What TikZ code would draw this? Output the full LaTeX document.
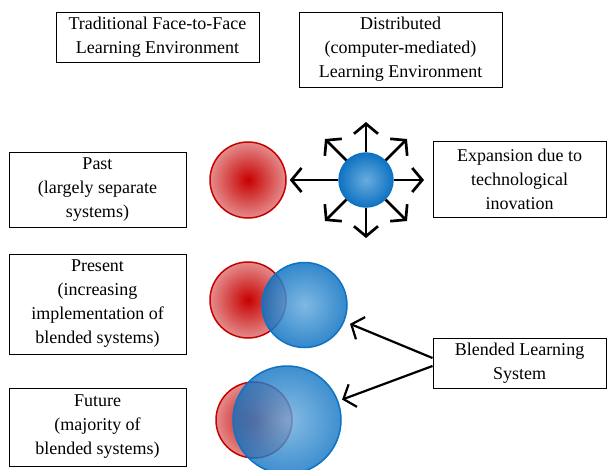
\documentclass[tikz,border=0pt]{standalone}
\usepackage{fontspec}
\setmainfont{Liberation Serif}
\usetikzlibrary{arrows.meta,calc}
\definecolor{envred}{RGB}{200,0,0}
\definecolor{envredlight}{RGB}{228,140,140}
\definecolor{envblue}{RGB}{15,115,195}
\definecolor{envbluelight}{RGB}{105,172,222}
\tikzset{
  label box/.style={draw, line width=1pt, align=center, inner sep=0pt,
    font=\fontsize{18}{24}\selectfont},
  f2f/.style={circle, draw=envred, line width=1.5pt, inner sep=0pt,
    shading=radial, inner color=envred, outer color=envredlight},
  dist/.style={circle, draw=envblue, line width=1.5pt, inner sep=0pt,
    shading=radial, inner color=envbluelight, outer color=envblue},
  arr/.style={line width=2.7pt, -{Straight Barb[length=10pt,width=24pt]}},
}
\begin{document}
\begin{tikzpicture}[x=1pt, y=-1pt]
  \useasboundingbox (0,0) rectangle (608,469);

  % Headings
  \node[label box, minimum width=203, minimum height=50] (trad) at (157.5,37)
    {Traditional Face-to-Face\\Learning Environment};
  \node[label box, minimum width=203, minimum height=75] (distr) at (400.5,49.5)
    {Distributed\\(computer-mediated)\\Learning Environment};

  % Rows
  \node[label box, minimum width=177, minimum height=75] (past) at (97.5,189.5)
    {Past\\(largely separate\\systems)};
  \node[label box, minimum width=177, minimum height=100] (present) at (97.5,304)
    {Present\\(increasing\\implementation of\\blended systems)};
  \node[label box, minimum width=177, minimum height=78] (future) at (97.5,427)
    {Future\\(majority of\\blended systems)};
  \node[label box, minimum width=173, minimum height=76] (expand) at (519.5,179)
    {Expansion due to\\technological\\inovation};
  \node[label box, minimum width=173, minimum height=50] (blend) at (519.5,363)
    {Blended Learning\\System};

  % Circles
  \node[f2f, minimum size=76] (pastR) at (248,180) {};
  \node[dist, minimum size=54] (pastB) at (366,180) {};
  \node[f2f, minimum size=76] (presR) at (248,300) {};
  \node[dist, minimum size=85, fill opacity=0.85] (presB) at (304.5,305) {};
  \node[f2f, minimum size=76] (futR) at (254,420) {};
  \node[dist, minimum size=108, fill opacity=0.8] (futB) at (287,420) {};

  % Arrows
  \draw[arr, shorten >=3pt] (pastB) -- (pastR);
  \foreach \a in {0,45,90,135,225,270,315} {
    \path (pastB.center) ++(\a:58pt) coordinate (tip\a);
    \draw[arr] (pastB.\a) -- (tip\a);
  }
  \draw[arr, line width=2.2pt, shorten >=6pt] ([yshift=5pt]blend.west) -- (presB);
  \draw[arr, line width=2.2pt, shorten >=4pt] ([yshift=-3pt]blend.west) -- (futB);
\end{tikzpicture}
\end{document}
